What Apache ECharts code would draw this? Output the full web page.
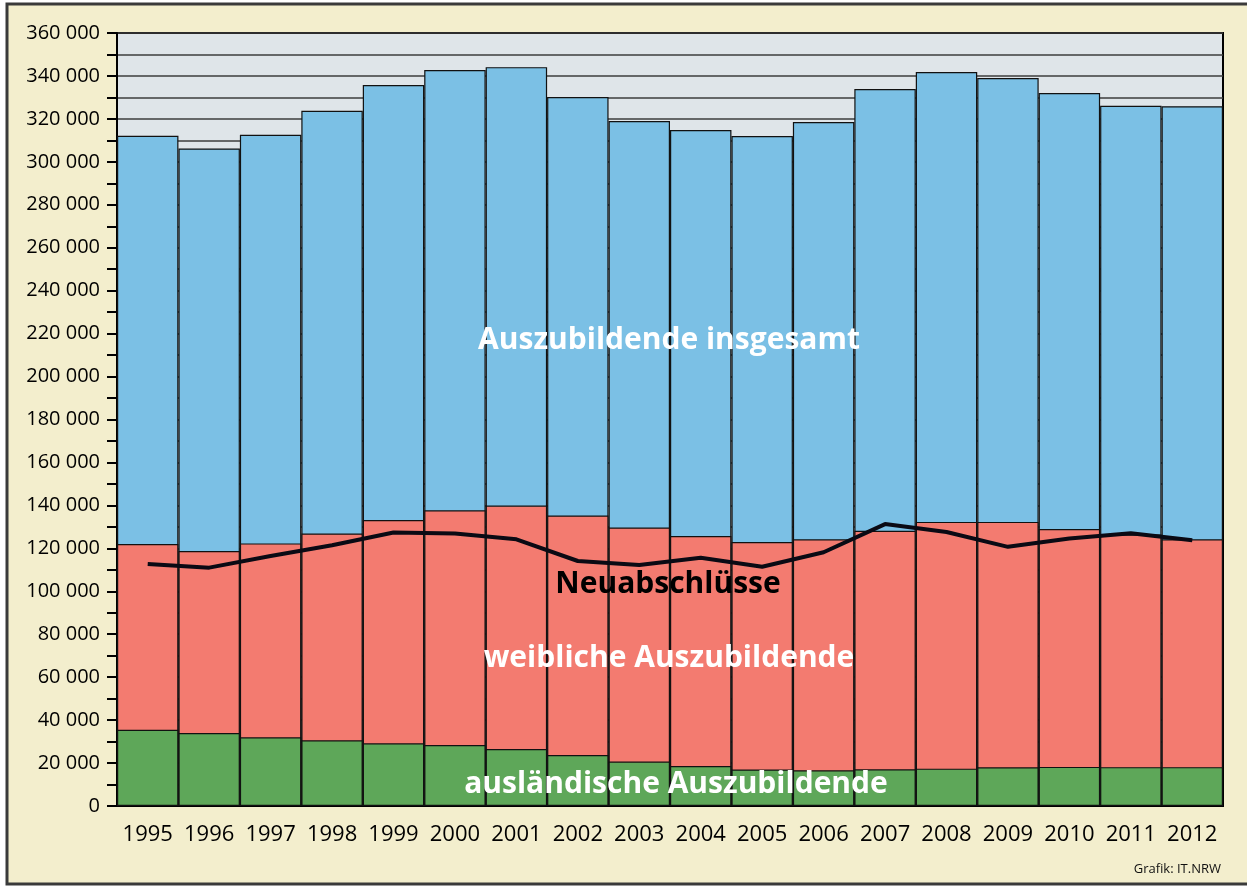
<!DOCTYPE html>
<html>
<head>
<meta charset="utf-8">
<title>Auszubildende NRW 1995-2012</title>
<script src="https://cdn.jsdelivr.net/npm/echarts@6/dist/echarts.min.js"></script>
<style>
  html, body { margin: 0; padding: 0; background: #fff; }
  #chart { width: 1247px; height: 886px; }
</style>
</head>
<body>
<div id="chart"></div>
<script>
// Jahre
var years = ['1995', '1996', '1997', '1998', '1999', '2000', '2001', '2002', '2003',
             '2004', '2005', '2006', '2007', '2008', '2009', '2010', '2011', '2012'];
// Auszubildende insgesamt
var insgesamt = [312100, 306200, 312600, 323800, 335800, 342800, 344100, 330200, 319000,
                 314800, 312000, 318500, 333900, 341800, 339000, 332000, 326100, 325900];
// weibliche Auszubildende
var weiblich = [122000, 118700, 122300, 126900, 133200, 137700, 139900, 135300, 129700,
                125700, 122900, 124200, 128200, 132300, 132300, 129000, 126400, 124200];
// ausländische Auszubildende
var auslaendisch = [35500, 34000, 32000, 30600, 29200, 28400, 26500, 23700, 20700,
                    18600, 17000, 16600, 17100, 17400, 18000, 18200, 18100, 18100];
// Neuabschlüsse
var neuabschluesse = [112700, 111000, 116400, 121400, 127400, 126900, 124200, 114100, 112200,
                      115600, 111400, 118200, 131300, 127600, 120700, 124600, 127000, 123800];

var fontName = '"Open Sans", "DejaVu Sans", sans-serif';

function fmtNum(v) {
    return String(v).replace(/\B(?=(\d{3})+(?!\d))/g, ' ');
}

var chart = echarts.init(document.getElementById('chart'));

var barBorder = { borderColor: '#111', borderWidth: 1.2 };

var option = {
    animation: false,
    backgroundColor: '#fff',
    textStyle: { fontFamily: fontName },
    grid: {
        left: 117, top: 33, right: 24, bottom: 80,
        show: true,
        backgroundColor: '#dfe5e9',
        borderColor: '#000',
        borderWidth: 2
    },
    xAxis: {
        type: 'category',
        data: years,
        axisLine: { lineStyle: { color: '#000', width: 2 } },
        axisTick: { length: 8, interval: 0, lineStyle: { color: '#000', width: 2 } },
        axisLabel: { color: '#000', fontSize: 22, margin: 18, interval: 0, fontFamily: fontName }
    },
    yAxis: {
        type: 'value',
        min: 0,
        max: 360000,
        interval: 10000,
        axisLine: { show: true, lineStyle: { color: '#000', width: 2 } },
        axisTick: { show: true, length: 10, lineStyle: { color: '#000', width: 2 } },
        axisLabel: {
            color: '#000', fontSize: 20, margin: 17, fontFamily: fontName,
            formatter: function (v) { return v % 20000 === 0 ? fmtNum(v) : ''; }
        },
        splitLine: { lineStyle: { color: '#3c3c3c', width: 1.5 } }
    },
    series: [
        {
            name: 'Auszubildende insgesamt',
            type: 'bar',
            barGap: '-100%',
            barCategoryGap: 0,
            itemStyle: Object.assign({ color: '#7bc0e5' }, barBorder),
            data: insgesamt,
            z: 2
        },
        {
            name: 'weibliche Auszubildende',
            type: 'bar',
            barGap: '-100%',
            barCategoryGap: 0,
            itemStyle: Object.assign({ color: '#f37b70' }, barBorder),
            data: weiblich,
            z: 3
        },
        {
            name: 'ausländische Auszubildende',
            type: 'bar',
            barGap: '-100%',
            barCategoryGap: 0,
            itemStyle: Object.assign({ color: '#5ea759' }, barBorder),
            data: auslaendisch,
            z: 4
        },
        {
            name: 'Neuabschlüsse',
            type: 'line',
            symbol: 'none',
            lineStyle: { color: '#0a0a14', width: 4 },
            data: neuabschluesse,
            z: 5
        }
    ],
    graphic: [
        // Rahmen
        {
            type: 'rect', z: -10, silent: true,
            shape: { x: 7, y: 4, width: 1262, height: 880 },
            style: { fill: '#f3eecd', stroke: '#3a3a3a', lineWidth: 3 }
        },
        {
            type: 'text', z: 100, x: 669, y: 340,
            style: { text: 'Auszubildende insgesamt', fill: '#fff', font: 'bold 30px ' + fontName,
                     textAlign: 'center', textVerticalAlign: 'middle' }
        },
        {
            type: 'text', z: 100, x: 668, y: 584,
            style: { text: 'Neuabschlüsse', fill: '#000', font: 'bold 30px ' + fontName,
                     textAlign: 'center', textVerticalAlign: 'middle' }
        },
        {
            type: 'text', z: 100, x: 669, y: 658,
            style: { text: 'weibliche Auszubildende', fill: '#fff', font: 'bold 30px ' + fontName,
                     textAlign: 'center', textVerticalAlign: 'middle' }
        },
        {
            type: 'text', z: 100, x: 676, y: 784,
            style: { text: 'ausländische Auszubildende', fill: '#fff', font: 'bold 30px ' + fontName,
                     textAlign: 'center', textVerticalAlign: 'middle' }
        },
        {
            type: 'text', z: 100, x: 1221, y: 869,
            style: { text: 'Grafik: IT.NRW', fill: '#111', font: '13px ' + fontName,
                     textAlign: 'right', textVerticalAlign: 'middle' }
        }
    ]
};

chart.setOption(option);
window.onresize = chart.resize;
</script>
</body>
</html>
